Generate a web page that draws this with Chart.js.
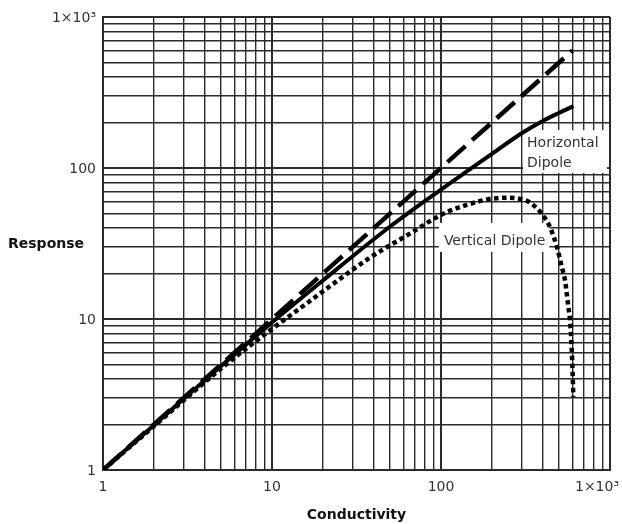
<!DOCTYPE html>
<html>
<head>
<meta charset="utf-8">
<script src="https://cdn.jsdelivr.net/npm/chart.js@4.4.1/dist/chart.umd.min.js"></script>
<style>
  html, body { margin: 0; padding: 0; background: #fff; }
  #chart { display: block; }
</style>
</head>
<body>
<canvas id="chart" width="622" height="524"></canvas>
<script>
// values (log-log axes)
const diagX = [1, 600];
const diagY = [1, 600];

const horizX = [1, 2, 5, 10, 20, 50, 100, 150, 200, 300, 400, 500, 607];
const horizY = [1, 1.98, 4.88, 9.5, 18, 41, 72, 99, 124, 170, 205, 232, 257];

const vertX = [1, 2, 5, 10, 15, 24, 38, 66, 94, 110, 142, 190, 250, 295, 330, 385, 440, 485, 518, 542, 567, 580, 593, 601, 607];
const vertY = [1, 1.95, 4.7, 8.6, 12, 17.7, 25.5, 37, 47.1, 51.4, 56.9, 62.1, 63.6, 62.3, 59.8, 51.4, 41, 30, 22.2, 18, 12, 9.8, 6.5, 4.4, 3.05];

const tickVals = [1, 10, 100, 1000];
const tickLabels = ['1', '10', '100', '1×10³'];

const gridVals = [];
for (const d of [1, 10, 100]) for (let m = 1; m < 10; m++) gridVals.push(m * d);
gridVals.push(1000);

const pts = (xs, ys) => xs.map((x, i) => ({ x, y: ys[i] }));
const isDecade = v => tickVals.includes(v);

const gridOpts = {
  color: '#2b2b2b',
  lineWidth: c => (c.tick && isDecade(c.tick.value) ? 2 : 1.4),
  drawTicks: false
};

// tick labels, axis titles and the two curve captions
const annotate = {
  id: 'annotate',
  beforeDatasetsDraw(chart) {
    const { ctx } = chart;
    const xs = chart.scales.x, ys = chart.scales.y;
    ctx.save();
    ctx.font = '14px "DejaVu Sans"';
    ctx.fillStyle = '#333';
    ctx.textBaseline = 'middle';
    ctx.textAlign = 'left';

    // Horizontal Dipole
    let x0 = xs.getPixelForValue(323), y1 = ys.getPixelForValue(146), y2 = ys.getPixelForValue(108);
    ctx.save();
    ctx.fillStyle = '#fff';
    ctx.fillRect(x0 - 4, y1 - 13, 84, y2 - y1 + 23);
    ctx.restore();
    ctx.fillText('Horizontal', x0, y1);
    ctx.fillText('Dipole', x0, y2);

    // Vertical Dipole
    x0 = xs.getPixelForValue(104); y1 = ys.getPixelForValue(32.9);
    const w = ctx.measureText('Vertical Dipole').width;
    ctx.save();
    ctx.fillStyle = '#fff';
    ctx.fillRect(x0 - 5, y1 - 18, w + 9, 29);
    ctx.restore();
    ctx.fillText('Vertical Dipole', x0, y1);
    ctx.restore();
  },
  afterDraw(chart) {
    const { ctx } = chart;
    const xs = chart.scales.x, ys = chart.scales.y;
    ctx.save();
    ctx.font = '14px "DejaVu Sans"';
    ctx.fillStyle = '#333';
    ctx.textBaseline = 'middle';

    ctx.textAlign = 'right';
    tickVals.forEach((v, i) => ctx.fillText(tickLabels[i], xs.left - 7, ys.getPixelForValue(v) + 1));

    ctx.textAlign = 'center';
    tickVals.forEach((v, i) => {
      const shift = i === tickVals.length - 1 ? -13 : 0;
      ctx.fillText(tickLabels[i], xs.getPixelForValue(v) + shift, ys.bottom + 17);
    });

    ctx.font = 'bold 14px "DejaVu Sans"';
    ctx.fillStyle = '#111';
    ctx.fillText('Conductivity', (xs.left + xs.right) / 2, 515);
    ctx.textAlign = 'left';
    ctx.fillText('Response', 8, (ys.top + ys.bottom) / 2 + 1);
    ctx.restore();
  }
};

new Chart(document.getElementById('chart'), {
  type: 'line',
  data: {
    datasets: [
      { data: pts(diagX, diagY), borderColor: '#000', borderWidth: 4.5, borderDash: [24, 9], pointRadius: 0 },
      { data: pts(horizX, horizY), borderColor: '#000', borderWidth: 4, pointRadius: 0, cubicInterpolationMode: 'monotone' },
      { data: pts(vertX, vertY), borderColor: '#000', borderWidth: 4.5, borderDash: [4.5, 3.5], pointRadius: 0, cubicInterpolationMode: 'monotone' }
    ]
  },
  options: {
    responsive: false,
    animation: false,
    layout: { padding: { left: 103, top: 17, right: 12, bottom: 54 } },
    plugins: { legend: { display: false }, tooltip: { enabled: false } },
    scales: {
      x: {
        type: 'logarithmic', min: 1, max: 1000,
        afterBuildTicks: s => { s.ticks = gridVals.map(value => ({ value })); },
        ticks: { display: false },
        grid: gridOpts,
        border: { color: '#2b2b2b', width: 2 }
      },
      y: {
        type: 'logarithmic', min: 1, max: 1000,
        afterBuildTicks: s => { s.ticks = gridVals.map(value => ({ value })); },
        ticks: { display: false },
        grid: gridOpts,
        border: { color: '#2b2b2b', width: 2 }
      }
    }
  },
  plugins: [annotate]
});
</script>
</body>
</html>
